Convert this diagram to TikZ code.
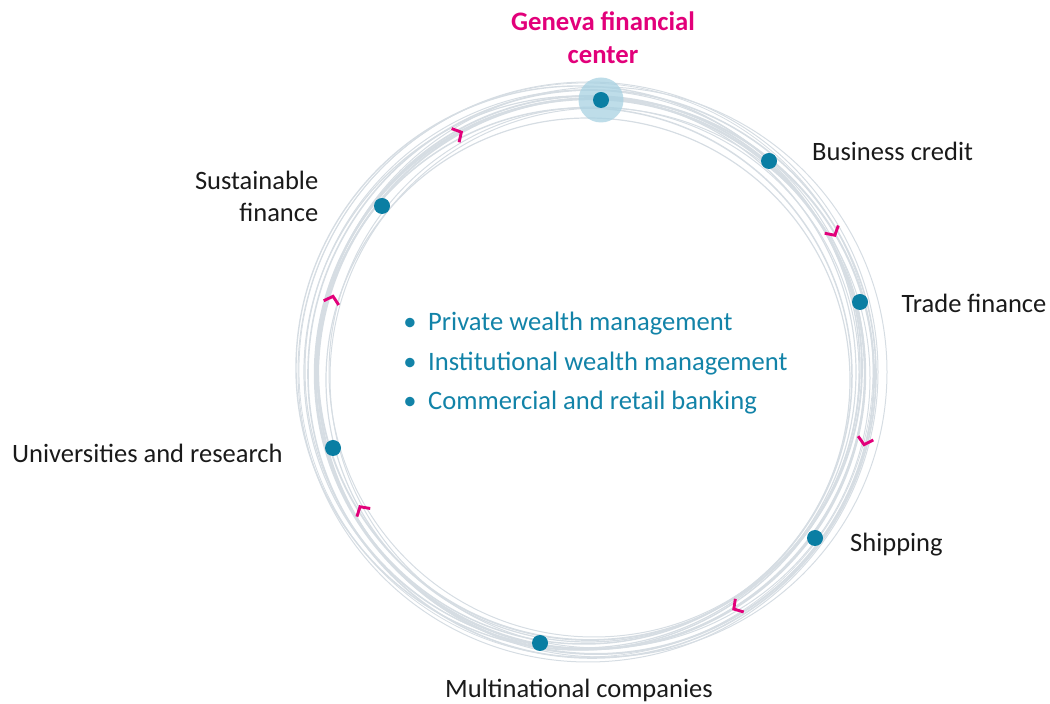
\documentclass[tikz,border=0pt]{standalone}
\usepackage{fontspec}
\setmainfont{Carlito}
\definecolor{ringgray}{HTML}{D6DDE3}
\definecolor{dotteal}{HTML}{0A7EA3}
\definecolor{halo}{HTML}{A8D2E2}
\definecolor{magent}{HTML}{E2007A}
\definecolor{txt}{HTML}{1A1A1A}
\definecolor{listteal}{HTML}{1283A8}
\begin{document}
\begin{tikzpicture}[x=1pt,y=1pt,
  ringline/.style={draw=ringgray},
  dot/.style={circle,fill=dotteal,minimum size=16pt,inner sep=0pt},
  lbl/.style={font=\fontsize{26.5}{30}\selectfont,text=txt,inner sep=0pt},
  head/.style={font=\fontsize{26.7}{30}\selectfont\bfseries,text=magent,inner sep=0pt,anchor=base},
  item/.style={font=\fontsize{26.6}{30}\selectfont,text=listteal,inner sep=0pt},
  chev/.style={draw=magent,line width=2.9pt,line cap=butt,line join=miter}]
\useasboundingbox (0,0) rectangle (1050,704);

% the ring: a bundle of slightly offset circles
\foreach \cx/\cy/\r/\w in {
  588/332/290/1.0, 592/330/284/1.6, 585/334/280/1.0, 596/328/278/2.0,
  580/332/276/1.2, 590/336/272/1.8, 600/326/270/1.0, 584/328/268/1.5,
  594/332/265/1.0, 578/336/282/1.4, 602/332/285/1.0, 588/324/262/1.2,
  590/330/275/2.4, 586/334/287/0.8}
  \draw[ringline,line width=\w pt] (\cx,\cy) circle[radius=\r pt];

% direction marks along the ring (clockwise)
\foreach \px/\py/\a in {458/570/28.6, 833/472/-60.3, 865/263/-104,
                        737/97/-147.6, 362/194/121.4, 332/404/74.3}
  \draw[chev,shift={(\px,\py)},rotate=\a] (-3,7.8) -- (3.8,0) -- (-3,-7.8);

% stations on the ring
\coordinate (genpos) at (601,604);
\fill[halo,opacity=0.75] (genpos) circle[radius=22.5pt];
\node[dot] (gen)   at (genpos) {};
\node[dot] (biz)   at (769,543) {};
\node[dot] (trade) at (860,402) {};
\node[dot] (ship)  at (815,166) {};
\node[dot] (multi) at (540,61)  {};
\node[dot] (univ)  at (333,256) {};
\node[dot] (sust)  at (382,498) {};

% titles
\node[head] (genA) at (603,673.3) {Geneva financial};
\node[head] (genB) at (603,640.7) {center};

\node[lbl,anchor=base west] (bizL)   at (812,543)   {Business credit};
\node[lbl,anchor=base west] (tradeL) at (901.5,391) {Trade finance};
\node[lbl,anchor=base west] (shipL)  at (850,152.3) {Shipping};
\node[lbl,anchor=base west] (multiL) at (445,6)     {Multinational companies};
\node[lbl,anchor=base west] (univL)  at (12,241)    {Universities and research};
\node[lbl,anchor=base east] (sustA)  at (318.5,514)   {Sustainable};
\node[lbl,anchor=base east] (sustB)  at (318.5,482.3) {finance};

% central list
\foreach \yy/\t/\n in {373.3/Private wealth management/i1,
                       333.3/Institutional wealth management/i2,
                       294/Commercial and retail banking/i3}{
  \node[item,anchor=base] (\n b) at (410,\yy) {\textbullet};
  \node[item,anchor=base west] (\n) at (428,\yy) {\t};
}
\end{tikzpicture}
\end{document}
